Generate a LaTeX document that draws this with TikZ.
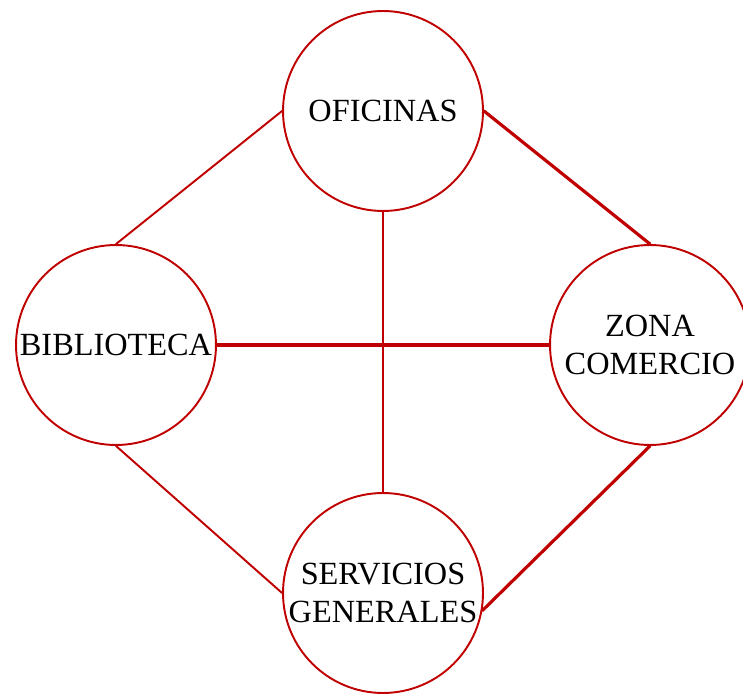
\documentclass[tikz,border=0pt]{standalone}
\usepackage{fontspec}
\setmainfont{Liberation Serif}
\usepackage{tikz}
\definecolor{rojo}{RGB}{192,0,0}

\begin{document}
\begin{tikzpicture}[line cap=round,line join=round,x=0.02cm,y=0.02cm,
  zona/.style={circle,draw=rojo,line width=1.1pt,minimum size=4cm,inner sep=0pt,
    align=center,font=\fontsize{18.4}{21.5}\selectfont},
  fina/.style={draw=rojo,line width=1.1pt},
  gruesa/.style={draw=rojo,line width=1.8pt}]
\useasboundingbox (0,0) rectangle (743,693);
\node[zona] (ofi) at (383,582) {OFICINAS};
\node[zona] (bib) at (116,348) {BIBLIOTECA};
\node[zona] (com) at (650,348) {ZONA\\COMERCIO};
\node[zona] (ser) at (383,100) {SERVICIOS\\GENERALES};
\draw[fina] (ofi.west) -- (bib.north);
\draw[gruesa] (ofi.east) -- (com.north);
\draw[fina] (ofi.south) -- (ser.north);
\draw[gruesa] (bib.east) -- (com.west);
\draw[fina] (bib.south) -- (ser.west);
\draw[gruesa] (com.south) -- (ser.-10);
\end{tikzpicture}
\end{document}
